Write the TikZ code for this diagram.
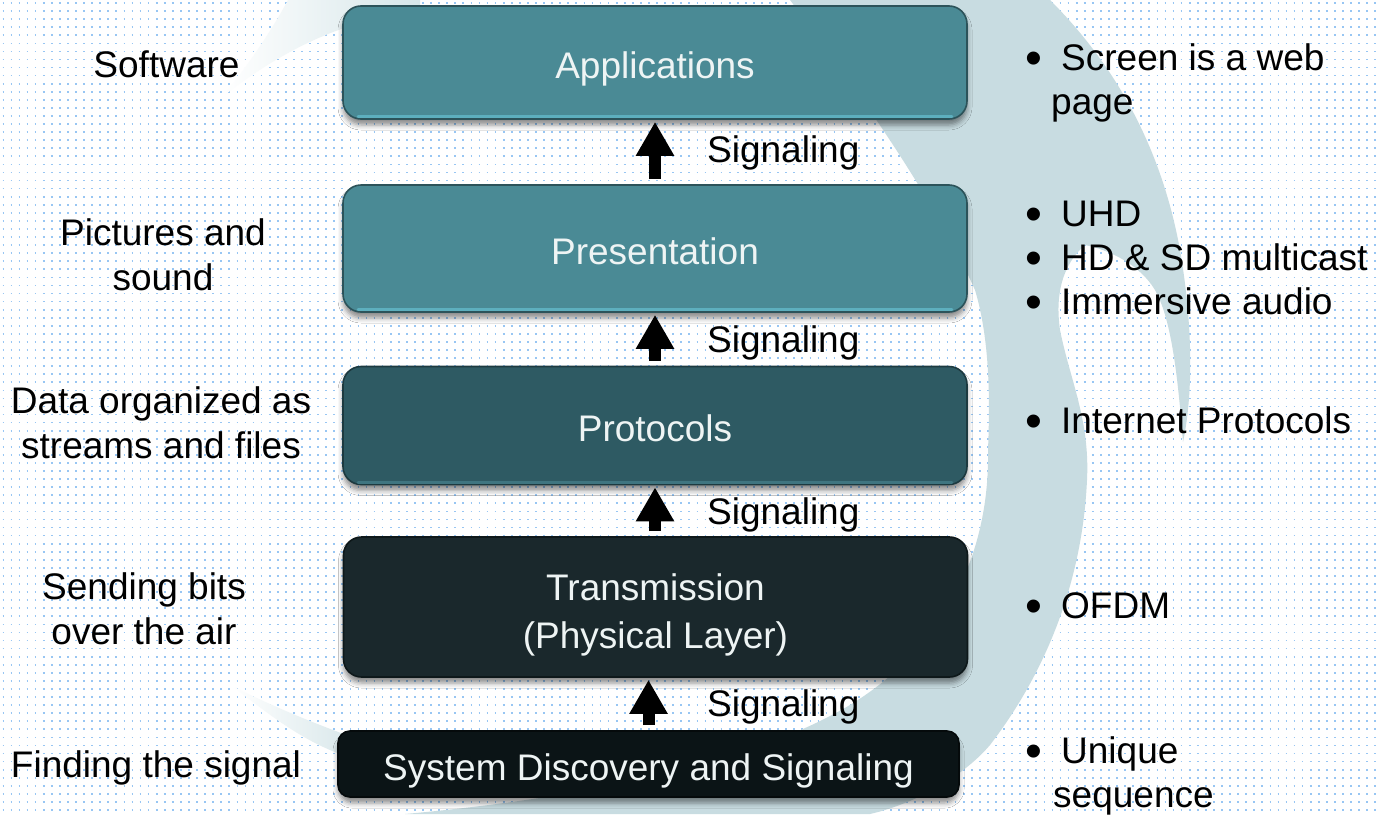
\documentclass[tikz,border=0pt]{standalone}
\usepackage{fontspec}
\setmainfont{Liberation Sans}
\usetikzlibrary{arrows.meta,shadows.blur}

\definecolor{dotblue}{HTML}{98C6F3}
\definecolor{swirl}{HTML}{C8DCE1}
\definecolor{swirllight}{HTML}{D6E6E9}
\definecolor{boxtext}{HTML}{EEF4F4}
\definecolor{tealfill}{HTML}{4A8A95}
\definecolor{tealedge}{HTML}{2C535A}
\definecolor{tealbevel}{HTML}{5DAFBE}
\definecolor{protfill}{HTML}{2E5A63}
\definecolor{protedge}{HTML}{1D3A40}
\definecolor{protbevel}{HTML}{3F7580}
\definecolor{transfill}{HTML}{1A282C}
\definecolor{transedge}{HTML}{0E181A}
\definecolor{sysfill}{HTML}{0B1416}
\definecolor{sysedge}{HTML}{050A0B}

\newcommand\labfont{\fontsize{37}{45}\selectfont}
\newcommand\listfont{\fontsize{37}{44}\selectfont}
\newcommand\boxfont{\fontsize{37}{48}\selectfont}
\newcommand\bul{\makebox[36pt][l]{\smash{\raisebox{-4pt}{\scalebox{1.3}{•}}}}}

\begin{document}
\begin{tikzpicture}[x=1pt,y=-1pt,
  dotrow/.style={draw=dotblue, line width=1.7pt, dash pattern=on 1.7pt off 6.37pt},
  layer/.style={rectangle, rounded corners=18pt, minimum width=624pt, inner sep=0pt,
    text=boxtext, font=\boxfont, line width=1.6pt,
    blur shadow={shadow xshift=0pt, shadow yshift=-6pt, shadow blur radius=5pt,
      shadow blur extra rounding=14pt, shadow opacity=45}},
  oneline/.style={layer, text height=32pt, text depth=0pt},
  side/.style={inner sep=0pt, font=\labfont, text=black, align=center},
  bullets/.style={inner sep=0pt, font=\listfont, text=black, align=left},
  siglabel/.style={inner sep=0pt, font=\labfont, text=black, anchor=base west},
  flow/.style={line width=12pt, draw=black, -{Triangle[width=36pt,length=34pt]},
    shorten >=2pt, shorten <=5pt},
  bevel/.style={line width=3pt, line cap=round}
]
\useasboundingbox (0,0) rectangle (1376,814);
\fill[white] (0,0) rectangle (1376,814);

% dotted grid
\foreach \r in {0,...,100}
  \draw[dotrow] (2.5,3+\r*8.07) -- (1376,3+\r*8.07);

% swirl in the background
\fill[swirl] (790,0) -- (1050,0)
  .. controls (1110,60) and (1160,140) .. (1180,250)
  .. controls (1192,320) and (1194,390) .. (1183,442)
  .. controls (1178,380) and (1172,320) .. (1155,290)
  .. controls (1140,265) and (1110,250) .. (1085,245)
  .. controls (1062,265) and (1055,295) .. (1060,330)
  .. controls (1070,380) and (1090,420) .. (1087,480)
  .. controls (1082,590) and (1040,680) .. (990,745)
  .. controls (960,780) and (910,805) .. (870,814)
  -- (405,814)
  .. controls (560,800) and (740,770) .. (850,705)
  .. controls (940,650) and (990,560) .. (988,450)
  .. controls (990,400) and (990,340) .. (975,290)
  .. controls (930,190) and (850,80) .. (790,0) -- cycle;
% upper tail
\shade[left color=white, right color=swirllight]
  (222,97) .. controls (245,70) and (272,30) .. (288,0) -- (420,0) -- (420,10)
  .. controls (330,22) and (270,60) .. (222,97) -- cycle;
% lower tail
\shade[left color=white, right color=swirllight]
  (232,686) .. controls (270,705) and (310,722) .. (360,740) -- (360,760)
  .. controls (310,748) and (270,715) .. (232,686) -- cycle;

% protocol layers
\node[oneline, fill=tealfill, draw=tealedge, minimum height=113pt] (app) at (655,62.5) {Applications};
\node[oneline, fill=tealfill, draw=tealedge, minimum height=127pt] (pres) at (655,248.5) {Presentation};
\node[oneline, fill=protfill, draw=protedge, minimum height=118pt] (prot) at (655,425.5) {Protocols};
\node[layer, fill=transfill, draw=transedge, minimum height=140pt, align=center] (trans) at (655.5,607) {\rule{0pt}{43pt}Transmission\\(Physical Layer)};
\node[oneline, fill=sysfill, draw=sysedge, minimum height=66pt, minimum width=621pt, rounded corners=12pt] (sys) at (648.5,764) {System Discovery and Signaling};

% light lower rims
\draw[bevel, tealbevel] ([xshift=16pt,yshift=3pt]app.south west) -- ([xshift=-16pt,yshift=3pt]app.south east);
\draw[bevel, tealbevel] ([xshift=16pt,yshift=3pt]pres.south west) -- ([xshift=-16pt,yshift=3pt]pres.south east);
\draw[bevel, protbevel] ([xshift=16pt,yshift=3pt]prot.south west) -- ([xshift=-16pt,yshift=3pt]prot.south east);

% signaling arrows
\draw[flow] (pres.north) -- (app.south);
\draw[flow] (prot.north) -- (pres.south);
\draw[flow] (trans.north -| prot.south) -- (prot.south);
\draw[flow] (sys.north) -- (sys.north |- trans.south);
\node[siglabel] (sig1) at (707,162) {Signaling};
\node[siglabel] (sig2) at (707,352) {Signaling};
\node[siglabel] (sig3) at (707,524) {Signaling};
\node[siglabel] (sig4) at (707,716) {Signaling};

% what each layer carries
\node[side, anchor=base] (l1) at (166.5,77) {Software};
\node[side, anchor=north] (l2) at (163,218) {Pictures and\\sound};
\node[side, anchor=north] (l3) at (161,386) {Data organized as\\streams and files};
\node[side, anchor=north] (l4) at (144,572) {Sending bits\\over the air};
\node[side, anchor=base] (l5) at (156,777) {Finding the signal};

% examples of each layer
\node[bullets, anchor=north west] (r1) at (1025,43) {\bul Screen is a web\\\hspace*{26pt}page};
\node[bullets, anchor=north west] (r2) at (1025,200.5) {\bul UHD\\\bul HD \& SD multicast\\\bul Immersive audio};
\node[bullets, anchor=base west] (r5) at (1025,433) {\bul Internet Protocols};
\node[bullets, anchor=base west] (r6) at (1025,618) {\bul OFDM};
\node[bullets, anchor=north west] (r7) at (1025,736) {\bul Unique\\\hspace*{28pt}sequence};
\end{tikzpicture}
\end{document}
